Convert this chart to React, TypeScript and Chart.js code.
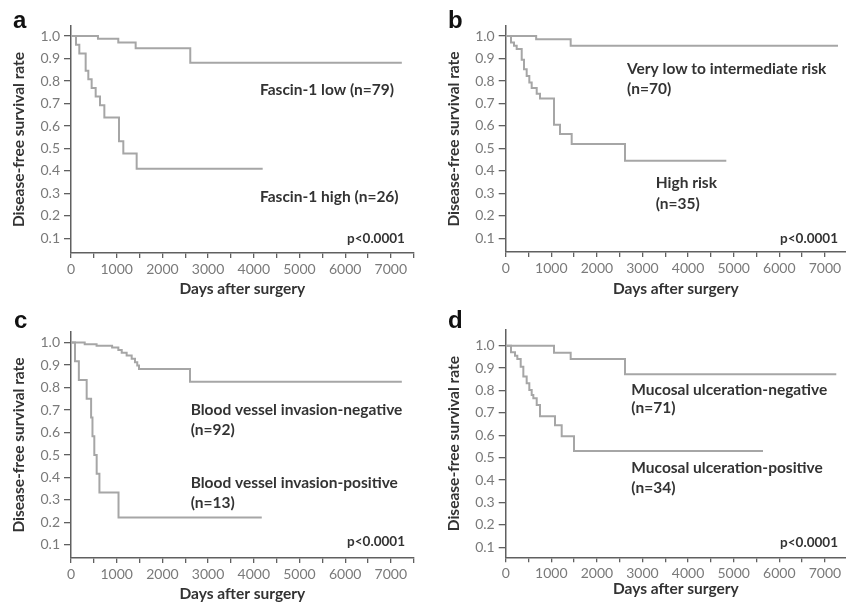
import { useEffect, useRef } from "react";
import { Chart, registerables } from "chart.js";

Chart.register(...registerables);

// ---------- data (days after surgery, survival rate) ----------
const aLowDays = [0, 590, 1035, 1415, 2610, 7240];
const aLowSurv = [1, 0.988, 0.972, 0.946, 0.882, 0.882];
const aHighDays = [0, 109, 182, 321, 379, 452, 540, 635, 730, 1050, 1145, 1437, 4195];
const aHighSurv = [1, 0.962, 0.923, 0.846, 0.808, 0.769, 0.731, 0.692, 0.638, 0.532, 0.478, 0.41, 0.41];

const bLowDays = [0, 668, 1425, 7287];
const bLowSurv = [1, 0.986, 0.957, 0.957];
const bHighDays = [0, 116, 182, 241, 351, 401, 460, 518, 570, 680, 752, 1059, 1191, 1447, 2616, 4838];
const bHighSurv = [1, 0.971, 0.957, 0.943, 0.895, 0.852, 0.822, 0.793, 0.769, 0.743, 0.722, 0.605, 0.564, 0.52, 0.445, 0.445];

const cLowDays = [0, 300, 560, 900, 1036, 1110, 1218, 1328, 1400, 1450, 1488, 2604, 7240];
const cLowSurv = [1, 0.993, 0.986, 0.978, 0.967, 0.955, 0.943, 0.928, 0.913, 0.898, 0.882, 0.826, 0.826];
const cHighDays = [0, 88, 172, 343, 440, 470, 510, 562, 622, 1040, 4175];
const cHighSurv = [1, 0.917, 0.833, 0.75, 0.667, 0.583, 0.5, 0.417, 0.333, 0.222, 0.222];

const dLowDays = [0, 1059, 1425, 2616, 7250];
const dLowSurv = [1, 0.968, 0.94, 0.872, 0.872];
const dHighDays = [0, 116, 204, 255, 329, 387, 460, 518, 570, 606, 680, 752, 1081, 1228, 1498, 5643];
const dHighSurv = [1, 0.971, 0.955, 0.941, 0.906, 0.862, 0.832, 0.802, 0.78, 0.765, 0.735, 0.685, 0.645, 0.595, 0.53, 0.53];

// tick values: marks every 500 days, labels every 1000 days
const xTickValues = [0, 500, 1000, 1500, 2000, 2500, 3000, 3500, 4000, 4500, 5000, 5500, 6000, 6500, 7000, 7500];
const xTickLabels = ["0", "", "1000", "", "2000", "", "3000", "", "4000", "", "5000", "", "6000", "", "7000", ""];
const yTickValues = [0.1, 0.2, 0.3, 0.4, 0.5, 0.6, 0.7, 0.8, 0.9, 1.0];
const yTickLabels = ["0.1", "0.2", "0.3", "0.4", "0.5", "0.6", "0.7", "0.8", "0.9", "1.0"];
const xTitle = "Days after surgery";
const yTitle = "Disease-free survival rate";
const pText = "p<0.0001";

// ---------- styles ----------
const LINE = "#a6a6a6";
const AXIS = "#606060";
const TICK_TXT = "#7a7a7a";
const TXT = "#333333";
const FAMILY = "Lato, 'Open Sans', sans-serif";

type Note = { text: string; x: number; y: number; align: CanvasTextAlign; size: number };
type Geom = {
  x: number; y: number; w: number; h: number;
  left: number; right: number; top: number; bottom: number;
  xMax: number; yMin: number; yMax: number;
  yTitlePad: number; xTitlePad: number;
  letterX: number; letterY: number;
};

const NOTE = 15.5;
const PSIZE = 13.5;
const TITLE = 15.5;
const TICKS = 14;

const panels: { letter: string; curves: { days: number[]; surv: number[] }[]; notes: Note[]; geom: Geom }[] = [
  {
    letter: "a",
    curves: [
      { days: aLowDays, surv: aLowSurv },
      { days: aHighDays, surv: aHighSurv },
    ],
    notes: [
      { text: "Fascin-1 low (n=79)", x: 4136, y: 0.738, align: "left", size: NOTE },
      { text: "Fascin-1 high (n=26)", x: 4136, y: 0.263, align: "left", size: NOTE },
      { text: pText, x: 7308, y: 0.08, align: "right", size: PSIZE },
    ],
    geom: { x: 0, y: 0, w: 423, h: 300, left: 71, right: 413.7, top: 26, bottom: 253, xMax: 7500, yMin: 0.035, yMax: 1.045, yTitlePad: 9.7, xTitlePad: 1.7, letterX: 13, letterY: 28 },
  },
  {
    letter: "b",
    curves: [
      { days: bLowDays, surv: bLowSurv },
      { days: bHighDays, surv: bHighSurv },
    ],
    notes: [
      { text: "Very low to intermediate risk", x: 2660, y: 0.831, align: "left", size: NOTE },
      { text: "(n=70)", x: 2660, y: 0.742, align: "left", size: NOTE },
      { text: "High risk", x: 3289, y: 0.3225, align: "left", size: NOTE },
      { text: "(n=35)", x: 3289, y: 0.229, align: "left", size: NOTE },
      { text: pText, x: 7287, y: 0.078, align: "right", size: PSIZE },
    ],
    geom: { x: 423, y: 0, w: 423, h: 300, left: 82.7, right: 423, top: 26, bottom: 252, xMax: 7463, yMin: 0.039, yMax: 1.045, yTitlePad: 21.7, xTitlePad: 1.7, letterX: 25, letterY: 28 },
  },
  {
    letter: "c",
    curves: [
      { days: cLowDays, surv: cLowSurv },
      { days: cHighDays, surv: cHighSurv },
    ],
    notes: [
      { text: "Blood vessel invasion-negative", x: 2619, y: 0.678, align: "left", size: NOTE },
      { text: "(n=92)", x: 2619, y: 0.589, align: "left", size: NOTE },
      { text: "Blood vessel invasion-positive", x: 2619, y: 0.352, align: "left", size: NOTE },
      { text: "(n=13)", x: 2619, y: 0.263, align: "left", size: NOTE },
      { text: pText, x: 7309, y: 0.0956, align: "right", size: PSIZE },
    ],
    geom: { x: 0, y: 300, w: 423, h: 305, left: 71, right: 413.7, top: 32, bottom: 258, xMax: 7500, yMin: 0.042, yMax: 1.047, yTitlePad: 9.7, xTitlePad: 1.7, letterX: 14, letterY: 28 },
  },
  {
    letter: "d",
    curves: [
      { days: dLowDays, surv: dLowSurv },
      { days: dHighDays, surv: dHighSurv },
    ],
    notes: [
      { text: "Mucosal ulceration-negative", x: 2755, y: 0.78, align: "left", size: NOTE },
      { text: "(n=71)", x: 2755, y: 0.698, align: "left", size: NOTE },
      { text: "Mucosal ulceration-positive", x: 2755, y: 0.43, align: "left", size: NOTE },
      { text: "(n=34)", x: 2755, y: 0.344, align: "left", size: NOTE },
      { text: pText, x: 7287, y: 0.103, align: "right", size: PSIZE },
    ],
    geom: { x: 423, y: 300, w: 423, h: 305, left: 82.7, right: 423, top: 30, bottom: 257.3, xMax: 7463, yMin: 0.055, yMax: 1.07, yTitlePad: 21.7, xTitlePad: 6.7, letterX: 25, letterY: 28 },
  },
];

function Panel({ letter, curves, notes, geom }: (typeof panels)[number]) {
  const ref = useRef<HTMLCanvasElement>(null);
  useEffect(() => {
    const notePlugin = {
      id: "notes",
      afterDraw(chart: any) {
        const ctx = chart.ctx as CanvasRenderingContext2D;
        const xs = chart.scales.x;
        const ys = chart.scales.y;
        ctx.save();
        ctx.fillStyle = TXT;
        ctx.textBaseline = "alphabetic";
        for (const n of notes) {
          ctx.font = `bold ${n.size}px ${FAMILY}`;
          ctx.textAlign = n.align;
          ctx.fillText(n.text, xs.getPixelForValue(n.x), ys.getPixelForValue(n.y));
        }
        ctx.fillStyle = "#111";
        ctx.textAlign = "left";
        ctx.font = `bold 24px 'Liberation Sans', Arial, sans-serif`;
        ctx.fillText(letter, geom.letterX, geom.letterY);
        ctx.restore();
      },
    };
    const chart = new Chart(ref.current!, {
      type: "line",
      data: {
        datasets: curves.map((c) => ({
          data: c.days.map((d, i) => ({ x: d, y: c.surv[i] })),
          stepped: true,
          borderColor: LINE,
          borderWidth: 2,
          pointRadius: 0,
          fill: false,
        })),
      },
      options: {
        animation: false,
        responsive: false,
        maintainAspectRatio: false,
        events: [],
        layout: { padding: { left: 0, top: geom.top, right: geom.w - geom.right, bottom: 0 } },
        plugins: { legend: { display: false }, tooltip: { enabled: false }, title: { display: false } },
        scales: {
          x: {
            type: "linear",
            min: 0,
            max: geom.xMax,
            afterFit: (s: any) => {
              s.height = geom.h - geom.bottom;
            },
            afterBuildTicks: (s: any) => {
              s.ticks = xTickValues.filter((v) => v <= geom.xMax).map((v) => ({ value: v }));
            },
            ticks: {
              autoSkip: false,
              maxRotation: 0,
              padding: 3,
              color: TICK_TXT,
              font: { family: FAMILY, size: TICKS },
              callback: (v: any) => {
                const i = xTickValues.indexOf(Number(v));
                return i >= 0 ? xTickLabels[i] : "";
              },
            },
            grid: { display: true, drawOnChartArea: false, drawTicks: true, tickLength: 5, color: AXIS, lineWidth: 1.3 },
            border: { display: true, color: AXIS, width: 1.5 },
            title: {
              display: true,
              text: xTitle,
              color: TXT,
              font: { family: FAMILY, size: TITLE, weight: "bold" },
              padding: { top: 0, bottom: geom.xTitlePad },
            },
          },
          y: {
            type: "linear",
            min: geom.yMin,
            max: geom.yMax,
            afterFit: (s: any) => {
              s.width = geom.left;
            },
            afterBuildTicks: (s: any) => {
              s.ticks = yTickValues.map((v) => ({ value: v }));
            },
            ticks: {
              autoSkip: false,
              padding: 4,
              color: TICK_TXT,
              font: { family: FAMILY, size: TICKS },
              callback: (v: any) => {
                const i = yTickValues.findIndex((t) => Math.abs(t - Number(v)) < 1e-6);
                return i >= 0 ? yTickLabels[i] : "";
              },
            },
            grid: { display: true, drawOnChartArea: false, drawTicks: true, tickLength: 7, color: AXIS, lineWidth: 1.3 },
            border: { display: true, color: AXIS, width: 1.5 },
            title: {
              display: true,
              text: yTitle,
              color: TXT,
              font: { family: FAMILY, size: TITLE, weight: "bold" },
              padding: { top: geom.yTitlePad, bottom: 0 },
            },
          },
        },
      } as any,
      plugins: [notePlugin],
    });
    return () => chart.destroy();
  }, []);
  return (
    <canvas
      ref={ref}
      width={geom.w}
      height={geom.h}
      style={{ position: "absolute", left: geom.x, top: geom.y, width: geom.w, height: geom.h }}
    />
  );
}

export default function App() {
  return (
    <div style={{ position: "absolute", left: 0, top: 0, width: 846, height: 605, background: "#fff", overflow: "hidden" }}>
      {panels.map((p) => (
        <Panel key={p.letter} {...p} />
      ))}
    </div>
  );
}
